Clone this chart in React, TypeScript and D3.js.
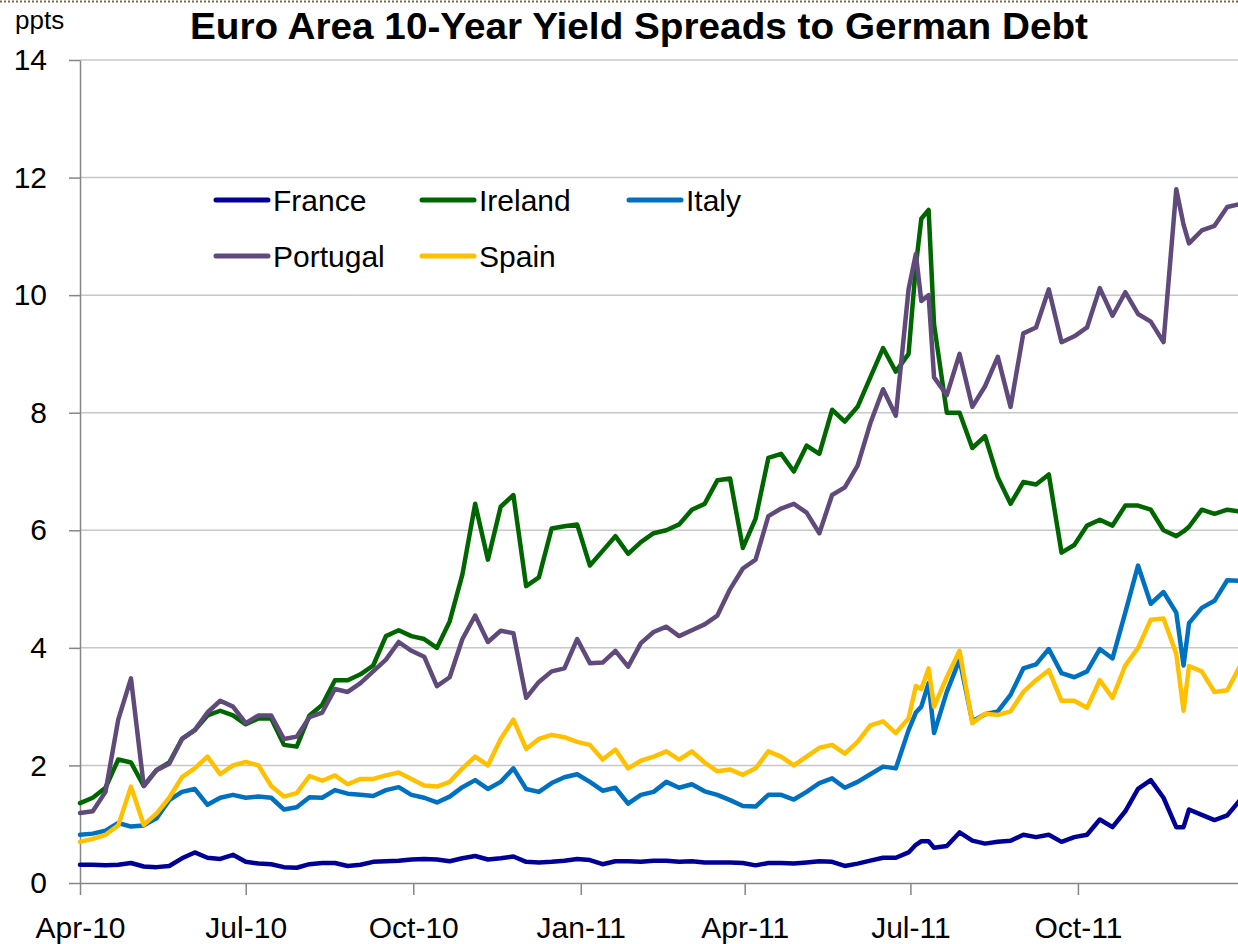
import React, { useEffect, useRef } from 'react';
import * as d3 from 'd3';

// weekly observations (plus a few extra days around spikes)
const dates = [
  '2010-04-01', '2010-04-08', '2010-04-15', '2010-04-22', '2010-04-29', '2010-05-06', '2010-05-13', '2010-05-20', '2010-05-27', '2010-06-03',
  '2010-06-10', '2010-06-17', '2010-06-24', '2010-07-01', '2010-07-08', '2010-07-15', '2010-07-22', '2010-07-29', '2010-08-05', '2010-08-12',
  '2010-08-19', '2010-08-26', '2010-09-02', '2010-09-09', '2010-09-16', '2010-09-23', '2010-09-30', '2010-10-07', '2010-10-14', '2010-10-21',
  '2010-10-28', '2010-11-04', '2010-11-11', '2010-11-18', '2010-11-25', '2010-12-02', '2010-12-09', '2010-12-16', '2010-12-23', '2010-12-30',
  '2011-01-06', '2011-01-13', '2011-01-20', '2011-01-27', '2011-02-03', '2011-02-10', '2011-02-17', '2011-02-24', '2011-03-03', '2011-03-10',
  '2011-03-17', '2011-03-24', '2011-03-31', '2011-04-07', '2011-04-14', '2011-04-21', '2011-04-28', '2011-05-05', '2011-05-12', '2011-05-19',
  '2011-05-26', '2011-06-02', '2011-06-09', '2011-06-16', '2011-06-23', '2011-06-30',
  '2011-07-04', '2011-07-07', '2011-07-11',
  '2011-07-14', '2011-07-21', '2011-07-28',
  '2011-08-04', '2011-08-11', '2011-08-18', '2011-08-25', '2011-09-01', '2011-09-08', '2011-09-15', '2011-09-22', '2011-09-29', '2011-10-06',
  '2011-10-13', '2011-10-20', '2011-10-27', '2011-11-03', '2011-11-10', '2011-11-17', '2011-11-24',
  '2011-11-28',
  '2011-12-01', '2011-12-08', '2011-12-15', '2011-12-22', '2011-12-29'
];

const france = [
  0.31, 0.31, 0.30, 0.31, 0.34, 0.28, 0.27, 0.29, 0.42, 0.52,
  0.43, 0.41, 0.48, 0.36, 0.33, 0.32, 0.27, 0.26, 0.32, 0.34,
  0.34, 0.29, 0.31, 0.36, 0.37, 0.38, 0.40, 0.41, 0.40, 0.37,
  0.42, 0.46, 0.40, 0.42, 0.45, 0.36, 0.35, 0.36, 0.38, 0.41,
  0.39, 0.32, 0.37, 0.37, 0.36, 0.38, 0.38, 0.36, 0.37, 0.35,
  0.35, 0.35, 0.34, 0.30, 0.34, 0.34, 0.33, 0.35, 0.37, 0.36,
  0.29, 0.33, 0.38, 0.43, 0.43, 0.52,
  0.65, 0.71, 0.71,
  0.60, 0.63, 0.86,
  0.72, 0.67, 0.70, 0.72, 0.82, 0.78, 0.82, 0.70, 0.78, 0.82,
  1.08, 0.95, 1.22, 1.60, 1.75, 1.45, 0.95,
  0.95,
  1.25, 1.16, 1.07, 1.15, 1.41
];

const ireland = [
  1.36, 1.45, 1.62, 2.10, 2.05, 1.65, 1.92, 2.05, 2.45, 2.60,
  2.85, 2.93, 2.85, 2.70, 2.80, 2.80, 2.35, 2.32, 2.85, 3.03,
  3.45, 3.45, 3.55, 3.70, 4.20, 4.30, 4.20, 4.15, 4.00, 4.45,
  5.25, 6.45, 5.50, 6.40, 6.60, 5.05, 5.20, 6.03, 6.07, 6.10,
  5.40, 5.65, 5.90, 5.60, 5.80, 5.95, 6.00, 6.10, 6.35, 6.45,
  6.85, 6.88, 5.70, 6.20, 7.23, 7.30, 7.00, 7.44, 7.30, 8.05,
  7.85, 8.10, 8.60, 9.10, 8.70, 9.00,
  10.50, 11.30, 11.45,
  9.50, 8.00, 8.00,
  7.40, 7.60, 6.90, 6.45, 6.82, 6.78, 6.95, 5.62, 5.75, 6.08,
  6.18, 6.08, 6.42, 6.42, 6.35, 6.00, 5.90,
  5.98,
  6.06, 6.35, 6.28, 6.35, 6.32
];

const italy = [
  0.82, 0.84, 0.89, 1.02, 0.96, 0.98, 1.10, 1.41, 1.55, 1.60,
  1.33, 1.45, 1.50, 1.45, 1.47, 1.45, 1.25, 1.29, 1.46, 1.45,
  1.58, 1.52, 1.50, 1.48, 1.58, 1.63, 1.50, 1.45, 1.37, 1.47,
  1.63, 1.75, 1.60, 1.72, 1.95, 1.60, 1.55, 1.70, 1.80, 1.85,
  1.72, 1.57, 1.62, 1.35, 1.50, 1.55, 1.72, 1.62, 1.68, 1.56,
  1.50, 1.41, 1.31, 1.30, 1.50, 1.50, 1.42, 1.55, 1.70, 1.78,
  1.62, 1.72, 1.85, 1.98, 1.95, 2.60,
  2.90, 3.00, 3.40,
  2.55, 3.25, 3.80,
  2.75, 2.87, 2.92, 3.20, 3.65, 3.72, 3.98, 3.57, 3.50, 3.60,
  3.98, 3.82, 4.60, 5.40, 4.75, 4.95, 4.60,
  3.70,
  4.42, 4.68, 4.80, 5.15, 5.14
];

const portugal = [
  1.19, 1.22, 1.55, 2.78, 3.48, 1.65, 1.92, 2.03, 2.45, 2.60,
  2.90, 3.10, 3.00, 2.72, 2.85, 2.85, 2.45, 2.49, 2.82, 2.90,
  3.30, 3.25, 3.40, 3.60, 3.80, 4.10, 3.95, 3.85, 3.35, 3.50,
  4.15, 4.55, 4.10, 4.29, 4.25, 3.15, 3.42, 3.60, 3.65, 4.15,
  3.74, 3.75, 3.95, 3.68, 4.08, 4.27, 4.36, 4.20, 4.30, 4.40,
  4.55, 5.00, 5.35, 5.50, 6.24, 6.37, 6.45, 6.30, 5.95, 6.60,
  6.73, 7.10, 7.82, 8.40, 7.95, 10.10,
  10.70, 9.90, 10.00,
  8.60, 8.30, 9.00,
  8.10, 8.45, 8.95, 8.10, 9.35, 9.45, 10.10, 9.20, 9.30, 9.45,
  10.12, 9.65, 10.05, 9.68, 9.55, 9.20, 11.80,
  11.20,
  10.88, 11.10, 11.18, 11.50, 11.55
];

const spain = [
  0.70, 0.75, 0.82, 0.98, 1.64, 0.99, 1.18, 1.45, 1.80, 1.95,
  2.15, 1.85, 2.00, 2.06, 2.00, 1.65, 1.47, 1.53, 1.82, 1.74,
  1.83, 1.68, 1.77, 1.77, 1.83, 1.88, 1.77, 1.66, 1.64, 1.72,
  1.95, 2.15, 2.00, 2.45, 2.78, 2.28, 2.45, 2.52, 2.48, 2.40,
  2.35, 2.10, 2.27, 1.95, 2.08, 2.15, 2.24, 2.10, 2.24, 2.05,
  1.90, 1.93, 1.84, 1.95, 2.24, 2.15, 2.00, 2.15, 2.30, 2.35,
  2.20, 2.40, 2.68, 2.75, 2.55, 2.80,
  3.35, 3.30, 3.65,
  3.00, 3.50, 3.95,
  2.72, 2.88, 2.86, 2.92, 3.25, 3.45, 3.62, 3.10, 3.10, 2.98,
  3.45, 3.15, 3.70, 4.00, 4.48, 4.50, 3.90,
  2.93,
  3.69, 3.60, 3.25, 3.28, 3.69
];

const seriesNames = ['France', 'Ireland', 'Italy', 'Portugal', 'Spain'];
const seriesValues = [france, ireland, italy, portugal, spain];
const yTicks = [0, 2, 4, 6, 8, 10, 12, 14];

const colors = ['#000099', '#006600', '#0070C0', '#604A7B', '#FFC000'];
const FONT = '"Liberation Sans", Arial, sans-serif';

const width = 1238;
const height = 944;
const margins = { left: 80, right: 0, top: 60, bottom: 61 };

const parse = d3.timeParse('%Y-%m-%d');
const parsedDates = dates.map(d => parse(d) as Date);

const xScale = d3.scaleTime()
  .domain([parse('2010-04-01') as Date, parse('2011-12-29') as Date])
  .range([margins.left, 1240]);

const yScale = d3.scaleLinear()
  .domain([0, 14])
  .range([height - margins.bottom, margins.top]);

// Axis component, drawn with d3 through a ref
const Axis = ({ axis, translate, fontSize }: { axis: any; translate: string; fontSize: number }) => {
  const ref = useRef<SVGGElement>(null);
  useEffect(() => {
    const g = d3.select(ref.current);
    g.call(axis);
    g.attr('font-family', FONT).attr('font-size', fontSize);
    g.select('.domain').attr('stroke', '#868686').attr('stroke-width', 1.5);
    g.selectAll('.tick line').attr('stroke', '#868686').attr('stroke-width', 1.5);
    g.selectAll('.tick text').attr('fill', '#000');
  });
  return <g ref={ref} transform={translate} />;
};

const Legend = () => {
  // row/column layout of the legend entries
  const slots = [
    { x: 216, y: 200 }, { x: 422, y: 200 }, { x: 629, y: 200 },
    { x: 216, y: 256 }, { x: 422, y: 256 }
  ];
  return (
    <g fontFamily={FONT} fontSize={30}>
      {seriesNames.map((name, i) => (
        <g key={name} transform={`translate(${slots[i].x},${slots[i].y})`}>
          <line x1={0} x2={52} y1={0} y2={0} stroke={colors[i]} strokeWidth={5} strokeLinecap="round" />
          <text x={57} dy="0.36em" fill="#000">{name}</text>
        </g>
      ))}
    </g>
  );
};

const App = () => {
  const line = d3.line<number>()
    .x((_, i) => xScale(parsedDates[i]))
    .y(d => yScale(d))
    .curve(d3.curveLinear);

  const xAxis = d3.axisBottom(xScale)
    .ticks(d3.timeMonth.every(3))
    .tickFormat(d3.timeFormat('%b-%y') as any)
    .tickSize(12)
    .tickSizeOuter(0)
    .tickPadding(22);

  const yAxis = d3.axisLeft(yScale)
    .tickValues(yTicks)
    .tickFormat(d3.format('d'))
    .tickSize(11)
    .tickSizeOuter(0)
    .tickPadding(22);

  return (
    <div>
      <style>{'body{margin:0;}'}</style>
      <svg width={width} height={height} style={{ display: 'block', background: '#fff' }}>
        <line x1={0} x2={width} y1={1.5} y2={1.5} stroke="#7F6A45" strokeWidth={2} strokeDasharray="2 2" />

        {/* gridlines */}
        <g>
          {yTicks.filter(t => t > 0).map(t => (
            <line key={t} x1={margins.left} x2={width} y1={yScale(t)} y2={yScale(t)} stroke="#C8C8C8" strokeWidth={1.5} />
          ))}
        </g>

        <Axis axis={yAxis} translate={`translate(${margins.left},0)`} fontSize={30} />
        <Axis axis={xAxis} translate={`translate(0,${height - margins.bottom})`} fontSize={30} />

        <g fill="none" strokeWidth={4.5} strokeLinejoin="round" strokeLinecap="round">
          {seriesValues.map((vals, i) => (
            <path key={seriesNames[i]} d={line(vals) || ''} stroke={colors[i]} />
          ))}
        </g>

        <Legend />

        <text x={15} y={29} fontFamily={FONT} fontSize={26} fill="#000">ppts</text>
        <text x={639} y={39} textAnchor="middle" fontFamily={FONT} fontSize={36} fontWeight="bold"
          textLength={898} lengthAdjust="spacingAndGlyphs" fill="#000">
          Euro Area 10-Year Yield Spreads to German Debt
        </text>
      </svg>
    </div>
  );
};

export default App;
